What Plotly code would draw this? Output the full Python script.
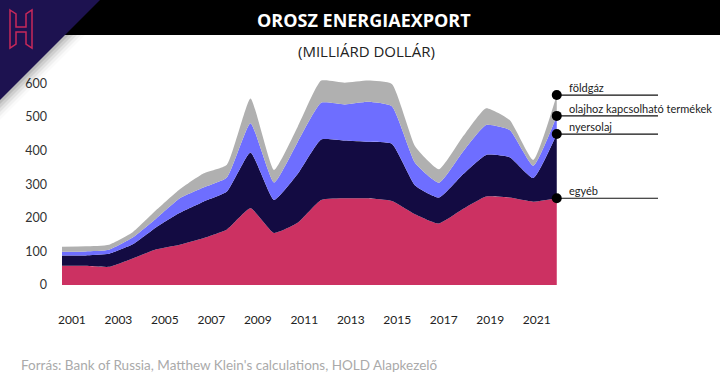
import plotly.graph_objects as go

years = list(range(2000, 2022))
egyeb = [57, 57, 54, 79, 106, 120, 139, 165, 228, 155, 185, 253, 258, 258, 250, 210, 183, 225, 263, 260, 248, 258]
nyersolaj = [31, 31, 39, 42, 66, 95, 109, 113, 166, 98, 145, 180, 172, 168, 170, 85, 77, 103, 124, 120, 70, 191]
olajtermek = [11, 12, 12, 20, 26, 43, 42, 42, 87, 52, 95, 109, 107, 119, 112, 67, 44, 67, 89, 81, 37, 54]
foldgaz = [15, 15, 15, 16, 25, 27, 42, 38, 74, 37, 45, 66, 65, 63, 66, 49, 40, 45, 50, 30, 17, 62]

series_names = ["egyéb", "nyersolaj", "olajhoz kapcsolható termékek", "földgáz"]
series_vals = [egyeb, nyersolaj, olajtermek, foldgaz]
colors = ["#CC3162", "#130B42", "#6E6EFF", "#B0B0B0"]

tick_years = list(range(2001, 2022, 2))
tick_labels = [str(y) for y in tick_years]
y_ticks = [0, 100, 200, 300, 400, 500, 600]

W, H = 720, 387
L, R, T, B = 62, 658, 70, 285   # plot area in pixels
x0_val = 2000
px_per_year = 23.56
x_end = x0_val + (R - L) / px_per_year


def pxx(x):
    return (x - L) / (R - L)


def pxy(y):
    return (B - y) / (B - T)


fig = go.Figure()
for name, vals, col in zip(series_names, series_vals, colors):
    fig.add_trace(go.Scatter(
        x=years, y=vals, name=name, stackgroup="one", mode="lines",
        line=dict(width=0, shape="spline", smoothing=0.45, color=col),
        fillcolor=col, hoverinfo="x+y+name"))

# cumulative values at the last year for labels
cum = []
s = 0
for vals in series_vals:
    s += vals[-1]
    cum.append(s)

last = years[-1]
for name, c in zip(series_names, cum):
    fig.add_trace(go.Scatter(x=[last, x_end], y=[c, c], mode="lines",
                             line=dict(color="#111111", width=1.2),
                             showlegend=False, hoverinfo="skip"))
    fig.add_annotation(x=last + 0.45, y=c, text=name, showarrow=False,
                       xanchor="left", yanchor="bottom", yshift=-1,
                       font=dict(family="Lato", size=11, color="#222222"))
fig.add_trace(go.Scatter(x=[last] * len(cum), y=cum, mode="markers",
                         marker=dict(color="#000000", size=10),
                         showlegend=False, hoverinfo="skip"))

shapes = []
# header bar
shapes.append(dict(type="rect", xref="paper", yref="paper",
                   x0=pxx(0), x1=pxx(W), y0=pxy(0), y1=pxy(35),
                   fillcolor="#000000", line=dict(width=0), layer="below"))
# shadow of corner triangle
for i, op in enumerate([0.10, 0.08, 0.06, 0.04, 0.02]):
    d = 4 + i * 4
    shapes.append(dict(type="path", xref="paper", yref="paper",
                       path=f"M {pxx(0)},{pxy(0)} L {pxx(100 + d)},{pxy(0)} L {pxx(0)},{pxy(100 + d)} Z",
                       fillcolor=f"rgba(0,0,0,{op})", line=dict(width=0)))
# corner triangle
shapes.append(dict(type="path", xref="paper", yref="paper",
                   path=f"M {pxx(0)},{pxy(0)} L {pxx(100)},{pxy(0)} L {pxx(0)},{pxy(100)} Z",
                   fillcolor="#1D1250", line=dict(width=0)))
# H logo (outlined)
hx = [10, 16, 16, 26, 26, 32, 32, 26, 26, 16, 16, 10]
hy = [10, 14, 27, 27, 14, 10, 48, 44, 32, 32, 44, 48]
path = "M " + " L ".join(f"{pxx(a)},{pxy(b)}" for a, b in zip(hx, hy)) + " Z"
shapes.append(dict(type="path", xref="paper", yref="paper", path=path,
                   fillcolor="rgba(0,0,0,0)", line=dict(color="#C8285A", width=1.5)))

annotations = [
    dict(xref="paper", yref="paper", x=pxx(364), y=pxy(20), text="<b>OROSZ ENERGIAEXPORT</b>",
         showarrow=False, xanchor="center", yanchor="middle",
         font=dict(family="Open Sans", size=18, color="#FFFFFF")),
    dict(xref="paper", yref="paper", x=pxx(366), y=pxy(51), text="(MILLIÁRD DOLLÁR)",
         showarrow=False, xanchor="center", yanchor="middle",
         font=dict(family="Open Sans", size=15, color="#222222")),
    dict(xref="paper", yref="paper", x=pxx(19), y=pxy(365),
         text="Forrás: Bank of Russia, Matthew Klein's calculations, HOLD Alapkezelő",
         showarrow=False, xanchor="left", yanchor="middle",
         font=dict(family="Lato", size=13.5, color="#AAAAAA")),
]

tickvals = [y - 0.58 - 0.0135 * (y - 2001) for y in tick_years]

fig.update_layout(
    width=W, height=H,
    margin=dict(l=L, r=W - R, t=T, b=H - B, pad=0),
    paper_bgcolor="#FFFFFF", plot_bgcolor="#FFFFFF",
    showlegend=False,
    shapes=shapes,
    xaxis=dict(range=[x0_val, x_end], tickvals=tickvals, ticktext=tick_labels,
               showgrid=False, zeroline=False, showline=False, ticks="",
               ticklabelstandoff=26,
               tickfont=dict(family="Lato", size=12, color="#222222")),
    yaxis=dict(range=[0, (B - T) * 600 / (285 - 83.3)], tickvals=y_ticks,
               showgrid=False, zeroline=False, showline=False, ticks="",
               ticklabelstandoff=14,
               tickfont=dict(family="Lato", size=12.5, color="#333333")),
)
for a in annotations:
    fig.add_annotation(**a)

fig.write_html("out.html", config={"displayModeBar": False},
               post_script="document.body.style.margin='0px';")
